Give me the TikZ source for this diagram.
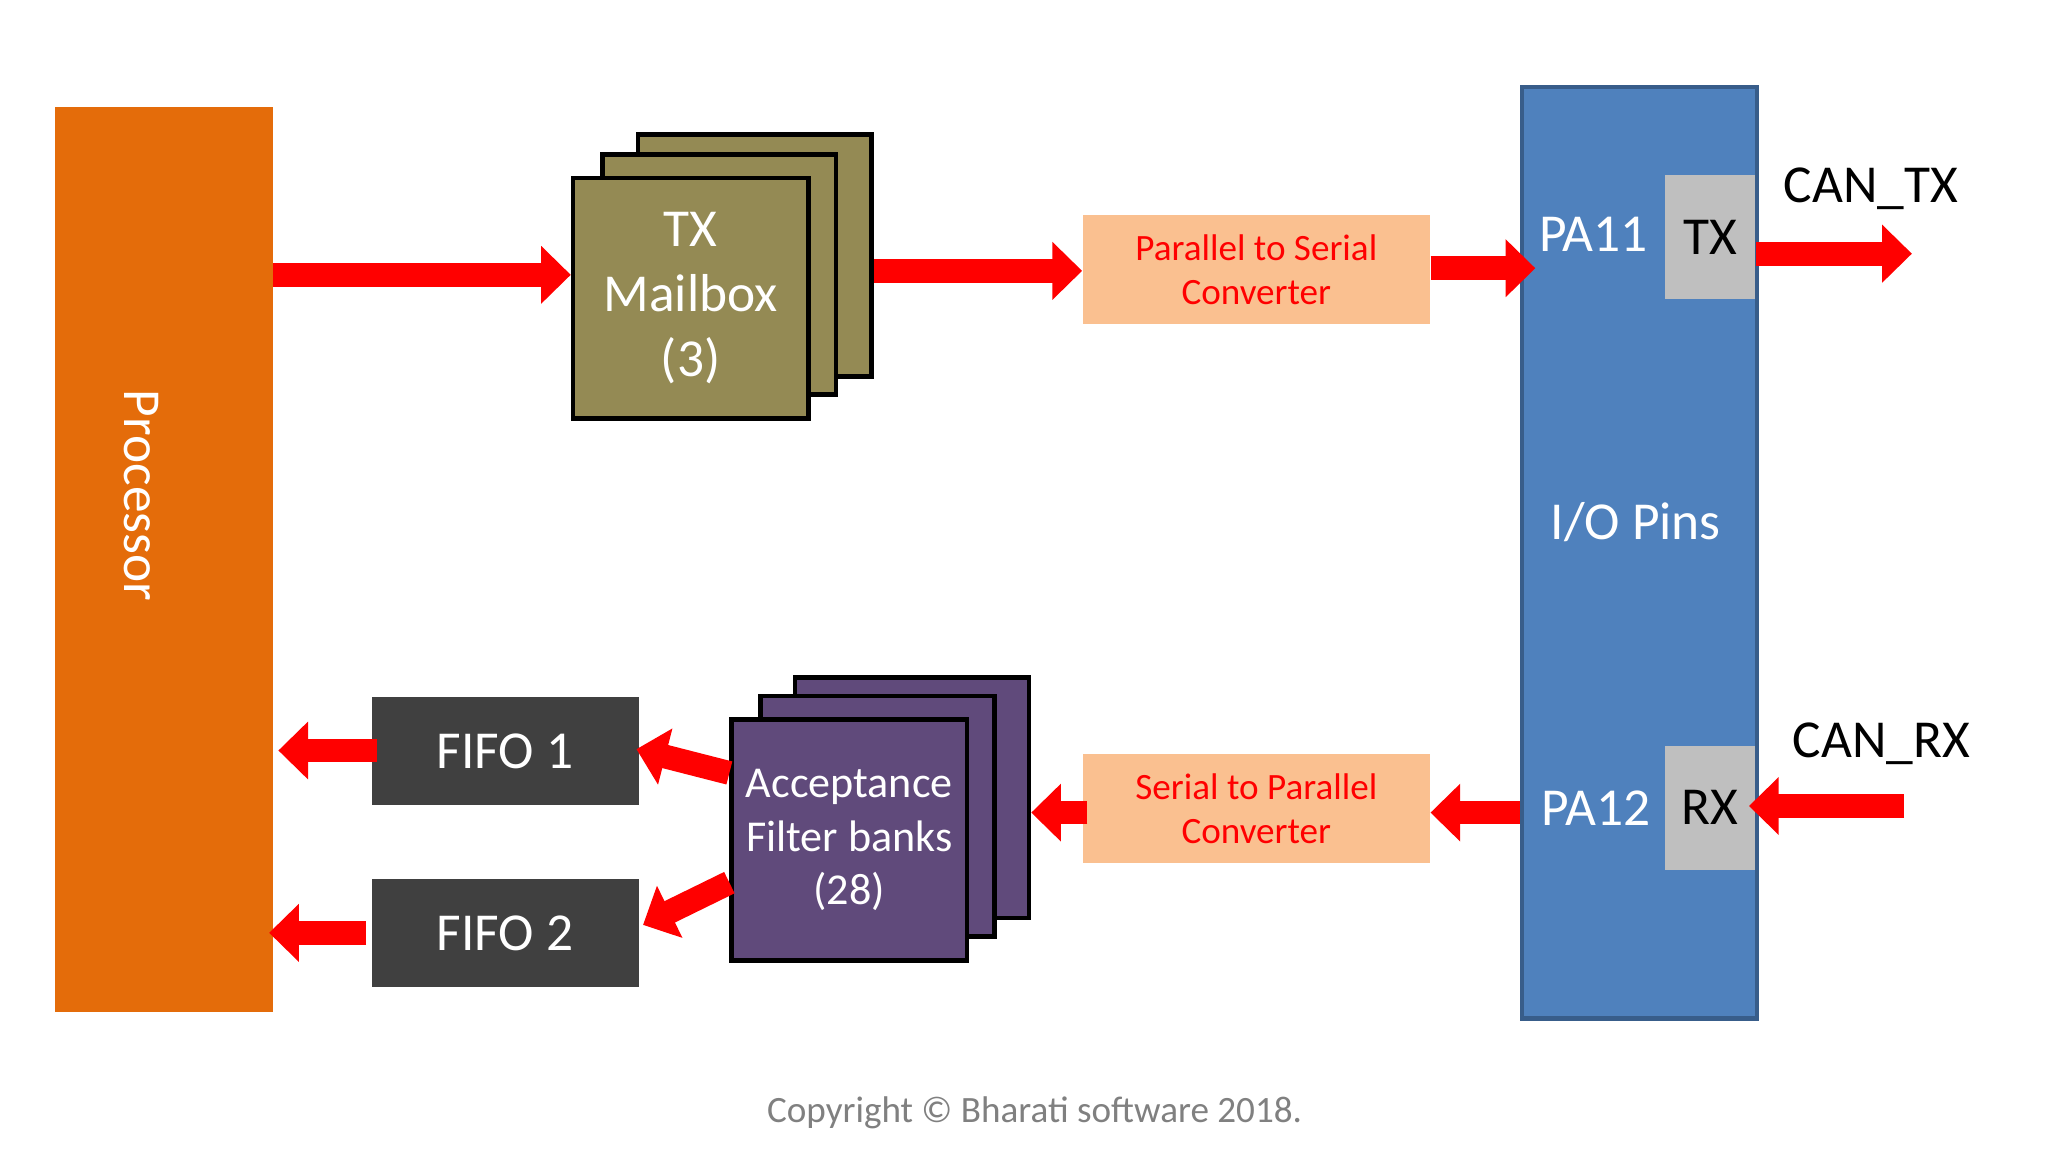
\documentclass[tikz,border=0pt]{standalone}
\usepackage{fontspec}
\setmainfont{Carlito}
\usetikzlibrary{arrows.meta,calc}
\definecolor{orng}{HTML}{E46C0A}
\definecolor{olive}{HTML}{948A54}
\definecolor{purp}{HTML}{604A7B}
\definecolor{peach}{HTML}{FAC090}
\definecolor{iob}{HTML}{4F81BD}
\definecolor{iobd}{HTML}{385D8A}
\definecolor{fifo}{HTML}{404040}
\definecolor{pin}{HTML}{BFBFBF}
\begin{document}
\begin{tikzpicture}[x=0.02cm,y=-0.02cm,
  arr/.style={red,line width=0.36cm,-{Triangle[length=0.45cm,width=0.85cm]}},
  stk/.style={draw=black,line width=2pt,inner sep=0,anchor=north west},
  conv/.style={fill=peach,inner sep=0,anchor=north west,minimum width=5.26cm,minimum height=1.66cm,text=red,font=\fontsize{16}{19}\selectfont,align=center},
  ff/.style={fill=fifo,inner sep=0,anchor=north west,minimum width=4.04cm,minimum height=1.64cm,text=white,font=\fontsize{23}{28}\selectfont},
  pinb/.style={fill=pin,inner sep=0,anchor=north west,minimum width=1.36cm,minimum height=1.88cm,font=\fontsize{23}{28}\selectfont},
  lbl/.style={font=\fontsize{23}{28}\selectfont}]
\useasboundingbox (0,0) rectangle (1550,872);
\fill[white] (0,0) rectangle (1550,872);
% Processor
\node[fill=orng,inner sep=0,anchor=north west,minimum width=3.3cm,minimum height=13.7cm] (proc) at (41,81) {};
\node[rotate=-90,text=white,font=\fontsize{23}{28}\selectfont] (proct) at (107,375) {Processor};
% TX mailbox stack
\node[stk,fill=olive,minimum width=3.54cm,minimum height=3.66cm] (m3) at (481,100) {};
\node[stk,fill=olive,minimum width=3.54cm,minimum height=3.64cm] (m2) at (454,115) {};
\node[stk,fill=olive,minimum width=3.56cm,minimum height=3.64cm,text=white,align=center,font=\fontsize{23}{28}\selectfont] (m1) at (432,133) {TX\\Mailbox\\(3)};
% converters
\node[conv] (p2s) at (819,162) {Parallel to Serial\\Converter};
\node[conv] (s2p) at (819,570) {Serial to Parallel\\Converter};
% IO pins
\node[fill=iob,draw=iobd,line width=2pt,inner sep=0,anchor=north west,minimum width=3.56cm,minimum height=14.1cm] (io) at (1150,64) {};
\node[text=white,font=\fontsize{23}{28}\selectfont] (iot) at (1238,395) {I/O Pins};
\node[text=white,lbl] (pa11) at (1206,177) {PA11};
\node[text=white,lbl] (pa12) at (1208,612) {PA12};
\node[pinb] (tx) at (1260,132) {TX};
\node[pinb] (rx) at (1260,564) {RX};
\node[lbl] (cantx) at (1416,143) {CAN\_TX};
\node[lbl] (canrx) at (1424,563) {CAN\_RX};
\coordinate (txend) at (1447,192);
\coordinate (rxstart) at (1441,610);
% filter stack
\node[stk,fill=purp,minimum width=3.54cm,minimum height=3.64cm] (f3) at (600,511) {};
\node[stk,fill=purp,minimum width=3.54cm,minimum height=3.64cm] (f2) at (574,525) {};
\node[stk,fill=purp,minimum width=3.56cm,minimum height=3.64cm,text=white,align=center,font=\fontsize{19}{23}\selectfont] (f1) at (552,543) {Acceptance\\Filter banks\\(28)};
% FIFOs
\node[ff] (fifo1) at (281,527) {FIFO 1};
\node[ff] (fifo2) at (281,665) {FIFO 2};
% arrows
\draw[arr] (proc.east |- 0,208) -- (m1.west |- 0,208);
\draw[arr] (m3.east |- 0,205) -- (p2s.west |- 0,205);
\draw[arr] (p2s.east |- 0,203) -- ([xshift=0.24cm]io.west |- 0,203);
\draw[arr] (tx.east |- 0,192) -- (txend);
\draw[arr] (rxstart) -- ([xshift=-0.1cm]rx.east |- 0,610);
\draw[arr] (io.west |- 0,615) -- (s2p.east |- 0,615);
\draw[arr] ([xshift=0.08cm]s2p.west |- 0,615) -- (f3.east |- 0,615);
\draw[arr] (f1.west |- 0,585) -- ([xshift=-0.04cm]fifo1.east |- 0,567);
\draw[arr] (f1.west |- 0,668) -- ([xshift=0.06cm]fifo2.east |- 0,700);
\draw[arr] ([xshift=0.08cm]fifo1.west |- 0,568) -- ([xshift=0.08cm]proc.east |- 0,568);
\draw[arr] ([xshift=-0.08cm]fifo2.west |- 0,706) -- ([xshift=-0.06cm]proc.east |- 0,706);
\node[text=gray,font=\fontsize{16}{20}\selectfont] (copy) at (783,842) {Copyright © Bharati software 2018.};
\end{tikzpicture}
\end{document}
